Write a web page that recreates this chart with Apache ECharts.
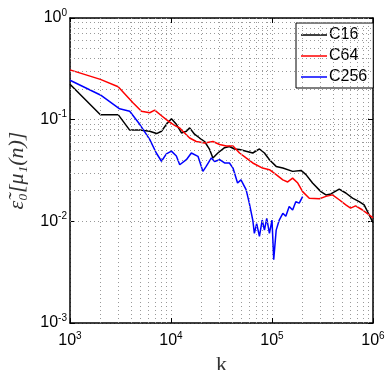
<!DOCTYPE html>
<html>
<head>
<meta charset="utf-8">
<script src="https://cdn.jsdelivr.net/npm/echarts@6/dist/echarts.min.js"></script>
<style>
  html, body { margin: 0; padding: 0; background: #fff; }
  #main { width: 388px; height: 370px; }
</style>
</head>
<body>
<div id="main"></div>
<script>
// C16
const c16K = [1000, 2000, 3000, 3900, 4900, 6150, 7200, 8050, 9000, 10100, 11300, 12700, 14200, 15300, 17100, 19200, 21500, 24100, 26000, 29100, 33900, 37900, 42500, 47700, 55400, 64500, 75100, 84200, 94300, 110000, 128000, 160000, 194000, 217000, 252000, 305000, 342000, 383000, 463000, 538000, 627000, 730000, 817000, 915000, 1000000]
const c16V = [0.223, 0.112, 0.112, 0.079, 0.079, 0.077, 0.073, 0.077, 0.09, 0.102, 0.09, 0.074, 0.077, 0.083, 0.072, 0.066, 0.061, 0.051, 0.042, 0.047, 0.053, 0.0545, 0.0515, 0.0508, 0.049, 0.047, 0.0515, 0.047, 0.0404, 0.0347, 0.0334, 0.031, 0.0317, 0.0288, 0.0238, 0.0196, 0.0182, 0.0186, 0.0207, 0.019, 0.0169, 0.0156, 0.0145, 0.0116, 0.0097]
// C64
const c64K = [1000, 2000, 3000, 4200, 5100, 6150, 6900, 8000, 9000, 10100, 11300, 12200, 13100, 15300, 17800, 21500, 26000, 30300, 35300, 41100, 47700, 55400, 64500, 80500, 94300, 110000, 128000, 143000, 160000, 180000, 201000, 234000, 295000, 342000, 397000, 463000, 538000, 600000, 672000, 781000, 915000, 1000000]
const c64V = [0.309, 0.249, 0.211, 0.147, 0.121, 0.117, 0.124, 0.11, 0.1, 0.092, 0.086, 0.083, 0.077, 0.066, 0.061, 0.059, 0.061, 0.057, 0.055, 0.055, 0.047, 0.042, 0.0375, 0.0334, 0.0322, 0.0288, 0.0256, 0.0244, 0.0266, 0.0238, 0.0196, 0.0169, 0.0167, 0.0176, 0.0182, 0.0163, 0.0145, 0.0135, 0.0142, 0.013, 0.0116, 0.0108]
// C256
const c256K = [1000, 2000, 3100, 3900, 4900, 6150, 7150, 8050, 9000, 10100, 11300, 12200, 14200, 15900, 18500, 20700, 22300, 25100, 27000, 30300, 33900, 37900, 41100, 45600, 49300, 55400, 59600, 64500, 66900, 70500, 75100, 80000, 84200, 88700, 94300, 100000, 104000, 110000, 118000, 128000, 137000, 148000, 160000, 172000, 186000, 201000]
const c256V = [0.244, 0.175, 0.128, 0.121, 0.09, 0.064, 0.047, 0.039, 0.046, 0.049, 0.044, 0.036, 0.0404, 0.047, 0.0436, 0.031, 0.0347, 0.042, 0.0388, 0.0404, 0.0375, 0.0375, 0.0334, 0.0238, 0.0256, 0.0205, 0.0151, 0.0103, 0.0076, 0.0095, 0.0071, 0.0103, 0.0082, 0.0107, 0.0076, 0.0103, 0.0042, 0.0082, 0.0103, 0.012, 0.0112, 0.014, 0.0129, 0.0156, 0.0151, 0.0175]

// minor grid positions (2..9 x decade)
const xMinor = [2, 3, 4, 5, 6, 7, 8, 9, 20, 30, 40, 50, 60, 70, 80, 90, 200, 300, 400, 500, 600, 700, 800, 900].map(m => m * 1000)
const yMinor = [0.002, 0.003, 0.004, 0.005, 0.006, 0.007, 0.008, 0.009, 0.02, 0.03, 0.04, 0.05, 0.06, 0.07, 0.08, 0.09, 0.2, 0.3, 0.4, 0.5, 0.6, 0.7, 0.8, 0.9]

function zip (k, v) {
  return k.map((x, i) => [x, v[i]])
}

const sans = 'Liberation Sans, Arial, sans-serif'
const gridLine = { color: '#999', width: 1, type: [1, 3] }

function powLabel (val) {
  const e = Math.round(Math.log10(val))
  return '{b|10}{e|' + e + '}'
}
const labelRich = {
  b: { fontSize: 16, fontFamily: sans, color: '#000', lineHeight: 20 },
  e: { fontSize: 10, fontFamily: sans, color: '#000', verticalAlign: 'top', lineHeight: 10, padding: [0, 0, 8, 0] }
}

const chart = echarts.init(document.getElementById('main'), null, { renderer: 'canvas' })

const option = {
  backgroundColor: '#fff',
  animation: false,
  grid: { left: 70, right: 15, top: 18, bottom: 47, outerBoundsMode: 'none', containLabel: false },
  legend: {
    data: ['C16', 'C64', 'C256'],
    orient: 'vertical',
    left: 296,
    top: 23,
    padding: [4, 6, 3, 5],
    itemGap: 5,
    itemWidth: 26,
    itemHeight: 1.5,
    icon: 'rect',
    borderColor: '#000',
    borderWidth: 1,
    backgroundColor: '#fff',
    textStyle: { fontSize: 16, fontFamily: sans, color: '#000', padding: [0, 0, 0, -3], lineHeight: 14 }
  },
  xAxis: [{
    type: 'log',
    logBase: 10,
    min: 1000,
    max: 1000000,
    name: 'k',
    nameLocation: 'middle',
    nameGap: 28,
    nameTextStyle: { fontSize: 22, fontFamily: 'Liberation Serif, DejaVu Serif, serif', color: '#333' },
    axisLine: { lineStyle: { color: '#000', width: 1.5 } },
    axisTick: { inside: true, length: 5, lineStyle: { color: '#000' } },
    axisLabel: { formatter: powLabel, rich: labelRich, margin: 8 },
    splitLine: { show: true, lineStyle: gridLine }
  }, {
    type: 'log',
    logBase: 10,
    min: 1000,
    max: 1000000,
    position: 'top',
    axisLine: { show: true, lineStyle: { color: '#000', width: 1.5 } },
    axisTick: { inside: true, length: 5, lineStyle: { color: '#000' } },
    axisLabel: { show: false },
    splitLine: { show: false }
  }],
  yAxis: [{
    type: 'log',
    logBase: 10,
    min: 0.001,
    max: 1,
    name: 'ε̃₀[μ₁(n)]',
    nameLocation: 'middle',
    nameGap: 42,
    nameRotate: 90,
    nameTextStyle: { fontSize: 22, fontFamily: 'Liberation Serif, DejaVu Serif, serif', fontStyle: 'italic', color: '#333' },
    axisLine: { show: true, lineStyle: { color: '#000', width: 1.5 } },
    axisTick: { inside: true, length: 5, lineStyle: { color: '#000' } },
    axisLabel: { formatter: powLabel, rich: labelRich, margin: 3 },
    splitLine: { show: true, lineStyle: gridLine }
  }, {
    type: 'log',
    logBase: 10,
    min: 0.001,
    max: 1,
    position: 'right',
    axisLine: { show: true, lineStyle: { color: '#000', width: 1.5 } },
    axisTick: { inside: true, length: 5, lineStyle: { color: '#000' } },
    axisLabel: { show: false },
    splitLine: { show: false }
  }],
  series: [{
    // minor grid only
    name: 'grid',
    type: 'line',
    z: 1,
    data: [],
    symbol: 'none',
    silent: true,
    markLine: {
      silent: true,
      symbol: ['none', 'none'],
      label: { show: false },
      lineStyle: gridLine,
      data: xMinor.map(v => ({ xAxis: v })).concat(yMinor.map(v => ({ yAxis: v })))
    }
  }, {
    name: 'C16',
    type: 'line',
    symbol: 'none',
    color: '#000',
    lineStyle: { width: 1.5, color: '#000' },
    data: zip(c16K, c16V)
  }, {
    name: 'C64',
    type: 'line',
    symbol: 'none',
    color: '#ff0000',
    lineStyle: { width: 1.5, color: '#ff0000' },
    data: zip(c64K, c64V)
  }, {
    name: 'C256',
    type: 'line',
    symbol: 'none',
    color: '#0000ff',
    lineStyle: { width: 1.5, color: '#0000ff' },
    data: zip(c256K, c256V)
  }]
}

chart.setOption(option)
</script>
</body>
</html>
